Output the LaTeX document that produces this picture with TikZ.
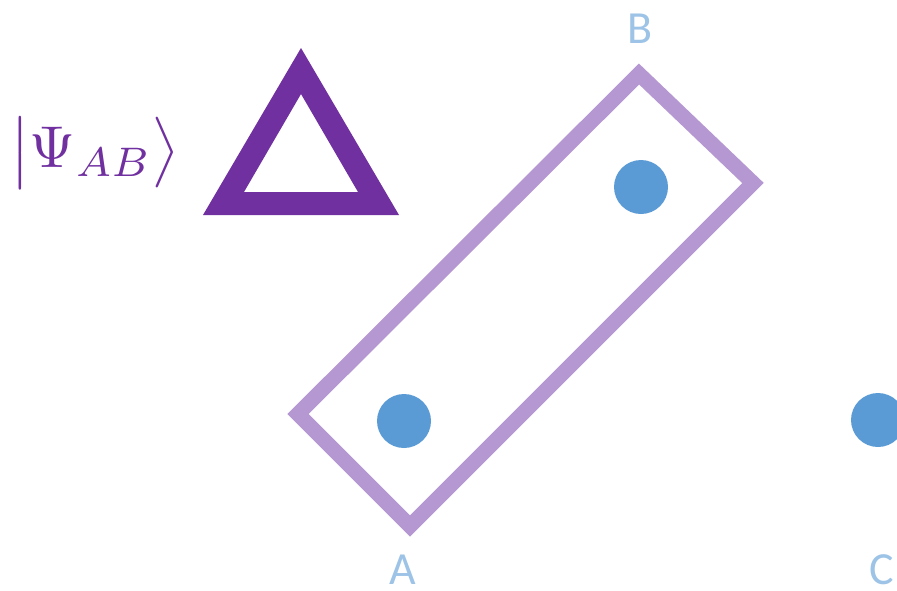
\documentclass[tikz,border=0pt]{standalone}
\usepackage{fontspec}
\setmainfont{Carlito}
\usetikzlibrary{positioning}
\definecolor{ketpurple}{HTML}{7030A0}
\definecolor{boxpurple}{HTML}{B598D2}
\definecolor{dotblue}{HTML}{5B9BD5}
\definecolor{lblblue}{HTML}{9DC3E6}
\tikzset{
qubit/.style={
	circle,
	fill=dotblue,
	minimum size=54pt,
	inner sep=0pt
},
qlabel/.style={
	text=lblblue,
	font=\fontsize{46}{50}\selectfont,
	inner sep=0pt
},
pairbox/.style={
	draw=boxpurple,
	line width=15pt,
	line join=miter
}
}
\begin{document}
\begin{tikzpicture}[x=1pt, y=-1pt]
\useasboundingbox (0,0) rectangle (897,590);
% ===== State label and triangle =====
\node (ket) [text=ketpurple, inner sep=0pt]
      at (95,153) {\scalebox{5.9}{$\bigl|\Psi_{AB}\bigr\rangle$}};
\fill[ketpurple, even odd rule]
      (301,48) -- (399,215) -- (203,215) -- cycle
      (301,94) -- (358,192) -- (244,192) -- cycle;
% ===== Qubits =====
\node (dotA) [qubit] at (404,421) {};
\node (dotB) [qubit] at (641,187) {};
\node (dotC) [qubit] at (878,420) {};
\node (lblA) [qlabel] at (403,570) {A};
\node (lblB) [qlabel] at (640,29)  {B};
\node (lblC) [qlabel] at (882,570) {C};
% ===== Box around A and B =====
\draw [pairbox] (639,74) -- (753,183) -- (410,526) -- (298,414) -- cycle;
\end{tikzpicture}
\end{document}
